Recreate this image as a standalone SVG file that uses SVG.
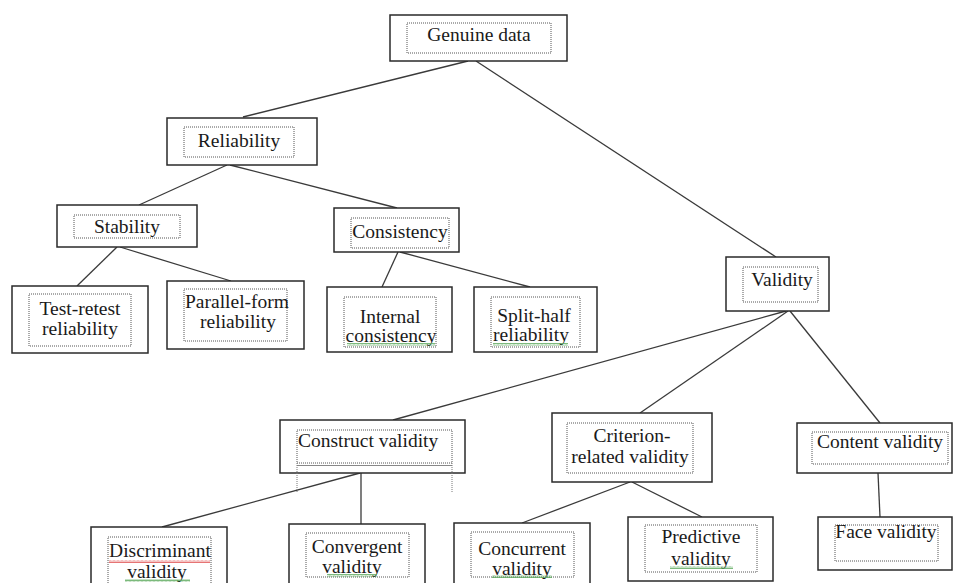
<svg xmlns="http://www.w3.org/2000/svg" width="953" height="583" viewBox="0 0 953 583">
<style>
.box{fill:#fff;stroke:#2a2a2a;stroke-width:1.5}
.inner{fill:none;stroke:#555;stroke-width:1;stroke-dasharray:1 1}
.t{font-family:"Liberation Serif","Times New Roman",serif;font-size:19.5px;fill:#1a1a1a;text-anchor:middle}
.ts{text-anchor:start}
.edge{stroke:#3a3a3a;stroke-width:1.3;fill:none}
</style>
<defs>
<pattern id="wg" width="4" height="3" patternUnits="userSpaceOnUse">
<polyline points="0,2.5 1,0.5 2,2.5 3,0.5 4,2.5" fill="none" stroke="#5aa85a" stroke-width="0.8"/>
</pattern>
<pattern id="wr" width="4" height="3" patternUnits="userSpaceOnUse">
<polyline points="0,2.5 1,0.5 2,2.5 3,0.5 4,2.5" fill="none" stroke="#e05050" stroke-width="0.8"/>
</pattern>
</defs>
<rect width="953" height="583" fill="#fff"/>
<g id="connectors">
<line class="edge" x1="468" y1="61" x2="243" y2="117"/>
<line class="edge" x1="476" y1="61" x2="776" y2="257"/>
<line class="edge" x1="227" y1="165" x2="139" y2="205"/>
<line class="edge" x1="230" y1="165" x2="397" y2="208"/>
<line class="edge" x1="117" y1="247" x2="77" y2="286"/>
<line class="edge" x1="120" y1="247" x2="231" y2="281"/>
<line class="edge" x1="398" y1="252" x2="382" y2="287"/>
<line class="edge" x1="400" y1="252" x2="530" y2="287"/>
<line class="edge" x1="786" y1="311" x2="393" y2="420"/>
<line class="edge" x1="788" y1="311" x2="640" y2="413"/>
<line class="edge" x1="790" y1="311" x2="880" y2="423"/>
<line class="edge" x1="360" y1="473" x2="162" y2="527"/>
<line class="edge" x1="361" y1="473" x2="361" y2="524"/>
<line class="edge" x1="630" y1="482" x2="522" y2="523"/>
<line class="edge" x1="632" y1="482" x2="702" y2="517"/>
<line class="edge" x1="878" y1="473" x2="880" y2="517"/>
</g>
<g id="genuine-data">
<rect class="box" x="390" y="15" width="177" height="46"/>
<rect class="inner" x="407" y="23" width="144" height="30"/>
<text class="t" x="479" y="41">Genuine data</text>
</g>
<g id="reliability">
<rect class="box" x="167" y="118" width="150" height="47"/>
<rect class="inner" x="184" y="127" width="110" height="30"/>
<text class="t" x="239" y="147">Reliability</text>
</g>
<g id="stability">
<rect class="box" x="57" y="205" width="140" height="42"/>
<rect class="inner" x="74" y="215" width="106" height="23"/>
<text class="t" x="127" y="233">Stability</text>
</g>
<g id="consistency">
<rect class="box" x="334" y="208" width="125" height="44"/>
<rect class="inner" x="351" y="218" width="98" height="30"/>
<text class="t" x="400" y="238">Consistency</text>
</g>
<g id="test-retest">
<rect class="box" x="12" y="286" width="136" height="67"/>
<rect class="inner" x="29" y="294" width="102" height="52"/>
<text class="t" x="80" y="315">Test-retest</text>
<text class="t" x="80" y="335">reliability</text>
</g>
<g id="parallel-form">
<rect class="box" x="167" y="281" width="137" height="68"/>
<rect class="inner" x="184" y="289" width="103" height="52"/>
<text class="t" x="237" y="308">Parallel-form</text>
<text class="t" x="238" y="328">reliability</text>
</g>
<g id="internal-consistency">
<rect class="box" x="327" y="287" width="125" height="65"/>
<rect class="inner" x="344" y="297" width="92" height="50"/>
<text class="t" x="390" y="323">Internal</text>
<text class="t" x="391" y="342">consistency</text>
<rect x="347" y="343" width="88" height="3" fill="url(#wg)"/>
</g>
<g id="split-half">
<rect class="box" x="474" y="287" width="123" height="65"/>
<rect class="inner" x="491" y="297" width="89" height="50"/>
<text class="t" x="534" y="322">Split-half</text>
<text class="t" x="531" y="341">reliability</text>
<rect x="493" y="343" width="75" height="3" fill="url(#wg)"/>
</g>
<g id="validity">
<rect class="box" x="726" y="257" width="103" height="54"/>
<rect class="inner" x="743" y="267" width="75" height="35"/>
<text class="t" x="782" y="286">Validity</text>
</g>
<g id="construct-validity">
<rect class="box" x="280" y="420" width="185" height="53"/>
<rect class="inner" x="297" y="430" width="155" height="33"/>
<line x1="297" y1="465.5" x2="452" y2="465.5" stroke="#888" stroke-width="1"/>
<line x1="297" y1="463" x2="297" y2="493" stroke="#777" stroke-width="1" stroke-dasharray="1 1"/>
<line x1="452" y1="463" x2="452" y2="493" stroke="#777" stroke-width="1" stroke-dasharray="1 1"/>
<text class="t ts" x="298" y="447">Construct validity</text>
</g>
<g id="criterion-related-validity">
<rect class="box" x="552" y="413" width="160" height="69"/>
<rect class="inner" x="567" y="423" width="126" height="50"/>
<text class="t" x="632" y="442">Criterion-</text>
<text class="t" x="630" y="463">related validity</text>
</g>
<g id="content-validity">
<rect class="box" x="797" y="423" width="155" height="50"/>
<rect class="inner" x="812" y="432" width="136" height="32"/>
<text class="t" x="880" y="448">Content validity</text>
</g>
<g id="discriminant-validity">
<rect class="box" x="91" y="527" width="136" height="60"/>
<rect class="inner" x="108" y="537" width="103" height="50"/>
<text class="t" x="160" y="557">Discriminant</text>
<text class="t" x="157" y="578">validity</text>
<rect x="109" y="560" width="101" height="3" fill="url(#wr)"/>
<rect x="125" y="579" width="65" height="3" fill="url(#wg)"/>
</g>
<g id="convergent-validity">
<rect class="box" x="289" y="524" width="136" height="63"/>
<rect class="inner" x="306" y="533" width="103" height="44"/>
<text class="t" x="357" y="553">Convergent</text>
<text class="t" x="352" y="573">validity</text>
<rect x="327" y="574" width="50" height="3" fill="url(#wg)"/>
</g>
<g id="concurrent-validity">
<rect class="box" x="454" y="523" width="136" height="64"/>
<rect class="inner" x="471" y="532" width="103" height="45"/>
<text class="t" x="522" y="555">Concurrent</text>
<text class="t" x="522" y="575">validity</text>
<rect x="492" y="575" width="60" height="3" fill="url(#wg)"/>
</g>
<g id="predictive-validity">
<rect class="box" x="628" y="517" width="145" height="64"/>
<rect class="inner" x="645" y="525" width="112" height="47"/>
<text class="t" x="701" y="543">Predictive</text>
<text class="t" x="701" y="565">validity</text>
<rect x="670" y="566" width="63" height="3" fill="url(#wg)"/>
</g>
<g id="face-validity">
<rect class="box" x="818" y="517" width="134" height="53"/>
<rect class="inner" x="835" y="525" width="103" height="36"/>
<text class="t" x="886" y="538">Face validity</text>
</g>
</svg>
